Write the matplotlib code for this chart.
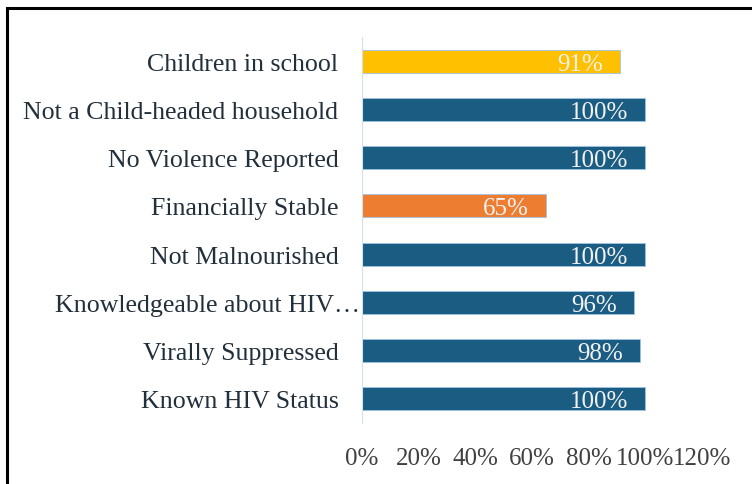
import matplotlib.pyplot as plt
import matplotlib.transforms as mtransforms
from matplotlib.patches import Rectangle

categories = ['Known HIV Status', 'Virally Suppressed', 'Knowledgeable about HIV\u2026',
              'Not Malnourished', 'Financially Stable', 'No Violence Reported',
              'Not a Child-headed household', 'Children in school']
values = [100, 98, 96, 100, 65, 100, 100, 91]
colors = ['#1B5C82', '#1B5C82', '#1B5C82', '#1B5C82', '#ED7D31', '#1B5C82', '#1B5C82', '#FFC000']
xticks = [0, 20, 40, 60, 80, 100, 120]

plt.rcParams['font.family'] = ['Liberation Serif', 'DejaVu Serif']

fig = plt.figure(figsize=(7.52, 4.85), dpi=100)
ax = fig.add_axes([362/752, 1-424/485, 340/752, 386/485])

y = range(len(categories))
ax.barh(y, values, height=0.48, color=colors, edgecolor='#9DC3E6', linewidth=0.6)
for i, v in enumerate(values):
    ax.text(v - 6, i - 0.05, f'{v}%', ha='right', va='center', color='#F2F2F2', fontsize=18)

ax.set_xlim(0, 120)
ax.set_ylim(-0.5, len(categories) - 0.5)
ax.set_xticks(xticks)
ax.set_xticklabels([f'{t}%' for t in xticks], fontsize=18, color='#404040')
ax.set_yticks(list(y))
ax.set_yticklabels(categories, fontsize=18.6, color='#22303C')
ax.tick_params(length=0)
ax.tick_params(axis='y', pad=17)
ax.tick_params(axis='x', pad=17)
for s in ['top', 'right', 'bottom']:
    ax.spines[s].set_visible(False)
ax.spines['left'].set_color('#D5DFEA')

# the truncated label overhangs towards the axis
lab = ax.get_yticklabels()[2]
lab.set_transform(lab.get_transform() + mtransforms.ScaledTranslation(22/100, 0, fig.dpi_scale_trans))

# outer frame (extends past the right and bottom edges)
fig.patches.append(Rectangle((7/752, -0.1), 1.2, 1 - 9/485 + 0.1, transform=fig.transFigure,
                             fill=False, edgecolor='black', linewidth=2.2))

fig.savefig('out.png', dpi=100)
